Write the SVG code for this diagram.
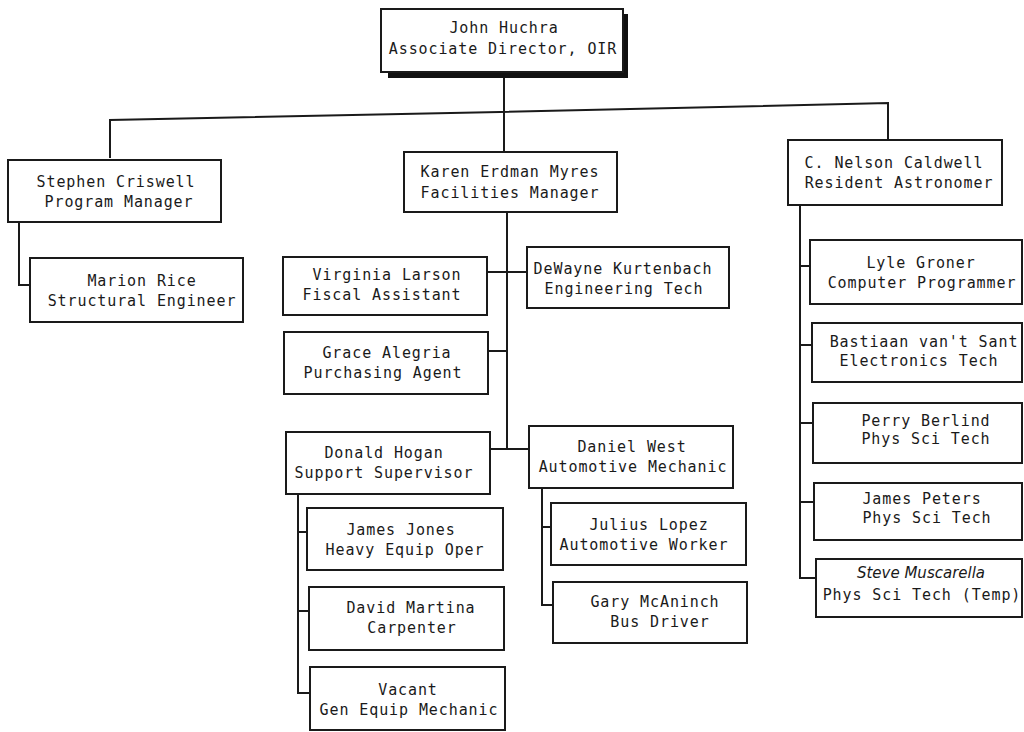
<svg xmlns="http://www.w3.org/2000/svg" width="1024" height="732" viewBox="0 0 1024 732">
<style>
.box{fill:#fff;stroke:#1a1a1a;stroke-width:2}
.ln{fill:none;stroke:#1a1a1a;stroke-width:2}
.t{font-family:"DejaVu Sans Mono","Liberation Mono",monospace;font-size:15px;letter-spacing:0.9px;fill:#1a1a1a;text-anchor:middle}
.hw{font-family:"DejaVu Sans","Liberation Sans",sans-serif;font-style:italic;font-size:15px;fill:#1a1a1a;text-anchor:middle}
</style>
<rect width="1024" height="732" fill="#fff"/>
<g id="connectors">
<path class="ln" d="M504 78 V153"/>
<path class="ln" d="M110 158 V120 L500 112 L888 103 V140"/>
<path class="ln" d="M19 222 V285 H30"/>
<path class="ln" d="M507 212 V449"/>
<path class="ln" d="M487 272 H527"/>
<path class="ln" d="M488 351 H507"/>
<path class="ln" d="M490 449 H529"/>
<path class="ln" d="M298 494 V693 H310"/>
<path class="ln" d="M298 532 H307"/>
<path class="ln" d="M298 611 H309"/>
<path class="ln" d="M542 488 V605 H553"/>
<path class="ln" d="M542 527 H551"/>
<path class="ln" d="M800 205 V578 H816"/>
<path class="ln" d="M800 266 H810"/>
<path class="ln" d="M800 345 H812"/>
<path class="ln" d="M800 423 H813"/>
<path class="ln" d="M800 502 H814"/>
</g>
<g id="n-huchra">
<rect x="388" y="14" width="240" height="64" fill="#111"/>
<rect class="box" x="381" y="9" width="242" height="63"/>
<text class="t" x="504" y="33">John Huchra</text>
<text class="t" x="503" y="54">Associate Director, OIR</text>
</g>
<g id="n-criswell">
<rect class="box" x="8" y="160" width="213" height="62"/>
<text class="t" x="116" y="187">Stephen Criswell</text>
<text class="t" x="119" y="207">Program Manager</text>
</g>
<g id="n-rice">
<rect class="box" x="30" y="258" width="213" height="64"/>
<text class="t" x="142" y="286">Marion Rice</text>
<text class="t" x="142" y="306">Structural Engineer</text>
</g>
<g id="n-myres">
<rect class="box" x="404" y="152" width="213" height="60"/>
<text class="t" x="510" y="177">Karen Erdman Myres</text>
<text class="t" x="510" y="198">Facilities Manager</text>
</g>
<g id="n-larson">
<rect class="box" x="283" y="257" width="204" height="58"/>
<text class="t" x="387" y="280">Virginia Larson</text>
<text class="t" x="382" y="300">Fiscal Assistant</text>
</g>
<g id="n-kurtenbach">
<rect class="box" x="527" y="247" width="202" height="61"/>
<text class="t" x="623" y="274">DeWayne Kurtenbach</text>
<text class="t" x="624" y="294">Engineering Tech</text>
</g>
<g id="n-alegria">
<rect class="box" x="284" y="332" width="204" height="62"/>
<text class="t" x="387" y="358">Grace Alegria</text>
<text class="t" x="383" y="378">Purchasing Agent</text>
</g>
<g id="n-hogan">
<rect class="box" x="286" y="432" width="204" height="62"/>
<text class="t" x="384" y="458">Donald Hogan</text>
<text class="t" x="384" y="478">Support Supervisor</text>
</g>
<g id="n-west">
<rect class="box" x="529" y="426" width="204" height="62"/>
<text class="t" x="632" y="452">Daniel West</text>
<text class="t" x="633" y="472">Automotive Mechanic</text>
</g>
<g id="n-jones">
<rect class="box" x="307" y="508" width="196" height="62"/>
<text class="t" x="401" y="535">James Jones</text>
<text class="t" x="405" y="555">Heavy Equip Oper</text>
</g>
<g id="n-martina">
<rect class="box" x="309" y="587" width="195" height="63"/>
<text class="t" x="411" y="613">David Martina</text>
<text class="t" x="412" y="633">Carpenter</text>
</g>
<g id="n-vacant">
<rect class="box" x="310" y="667" width="195" height="63"/>
<text class="t" x="408" y="695">Vacant</text>
<text class="t" x="409" y="715">Gen Equip Mechanic</text>
</g>
<g id="n-lopez">
<rect class="box" x="551" y="503" width="195" height="62"/>
<text class="t" x="649" y="530">Julius Lopez</text>
<text class="t" x="644" y="550">Automotive Worker</text>
</g>
<g id="n-mcaninch">
<rect class="box" x="553" y="582" width="194" height="61"/>
<text class="t" x="655" y="607">Gary McAninch</text>
<text class="t" x="660" y="627">Bus Driver</text>
</g>
<g id="n-caldwell">
<rect class="box" x="788" y="140" width="214" height="65"/>
<text class="t" x="894" y="168">C. Nelson Caldwell</text>
<text class="t" x="899" y="188">Resident Astronomer</text>
</g>
<g id="n-groner">
<rect class="box" x="810" y="240" width="212" height="64"/>
<text class="t" x="921" y="268">Lyle Groner</text>
<text class="t" x="922" y="288">Computer Programmer</text>
</g>
<g id="n-vantsant">
<rect class="box" x="812" y="323" width="210" height="59"/>
<text class="t" x="924" y="347">Bastiaan van't Sant</text>
<text class="t" x="919" y="366">Electronics Tech</text>
</g>
<g id="n-berlind">
<rect class="box" x="813" y="403" width="209" height="60"/>
<text class="t" x="926" y="426">Perry Berlind</text>
<text class="t" x="926" y="444">Phys Sci Tech</text>
</g>
<g id="n-peters">
<rect class="box" x="814" y="483" width="208" height="57"/>
<text class="t" x="922" y="504">James Peters</text>
<text class="t" x="927" y="523">Phys Sci Tech</text>
</g>
<g id="n-muscarella">
<rect class="box" x="816" y="559" width="206" height="58"/>
<text class="hw" x="921" y="578">Steve Muscarella</text>
<text class="t" x="922" y="600">Phys Sci Tech (Temp)</text>
</g>
</svg>
